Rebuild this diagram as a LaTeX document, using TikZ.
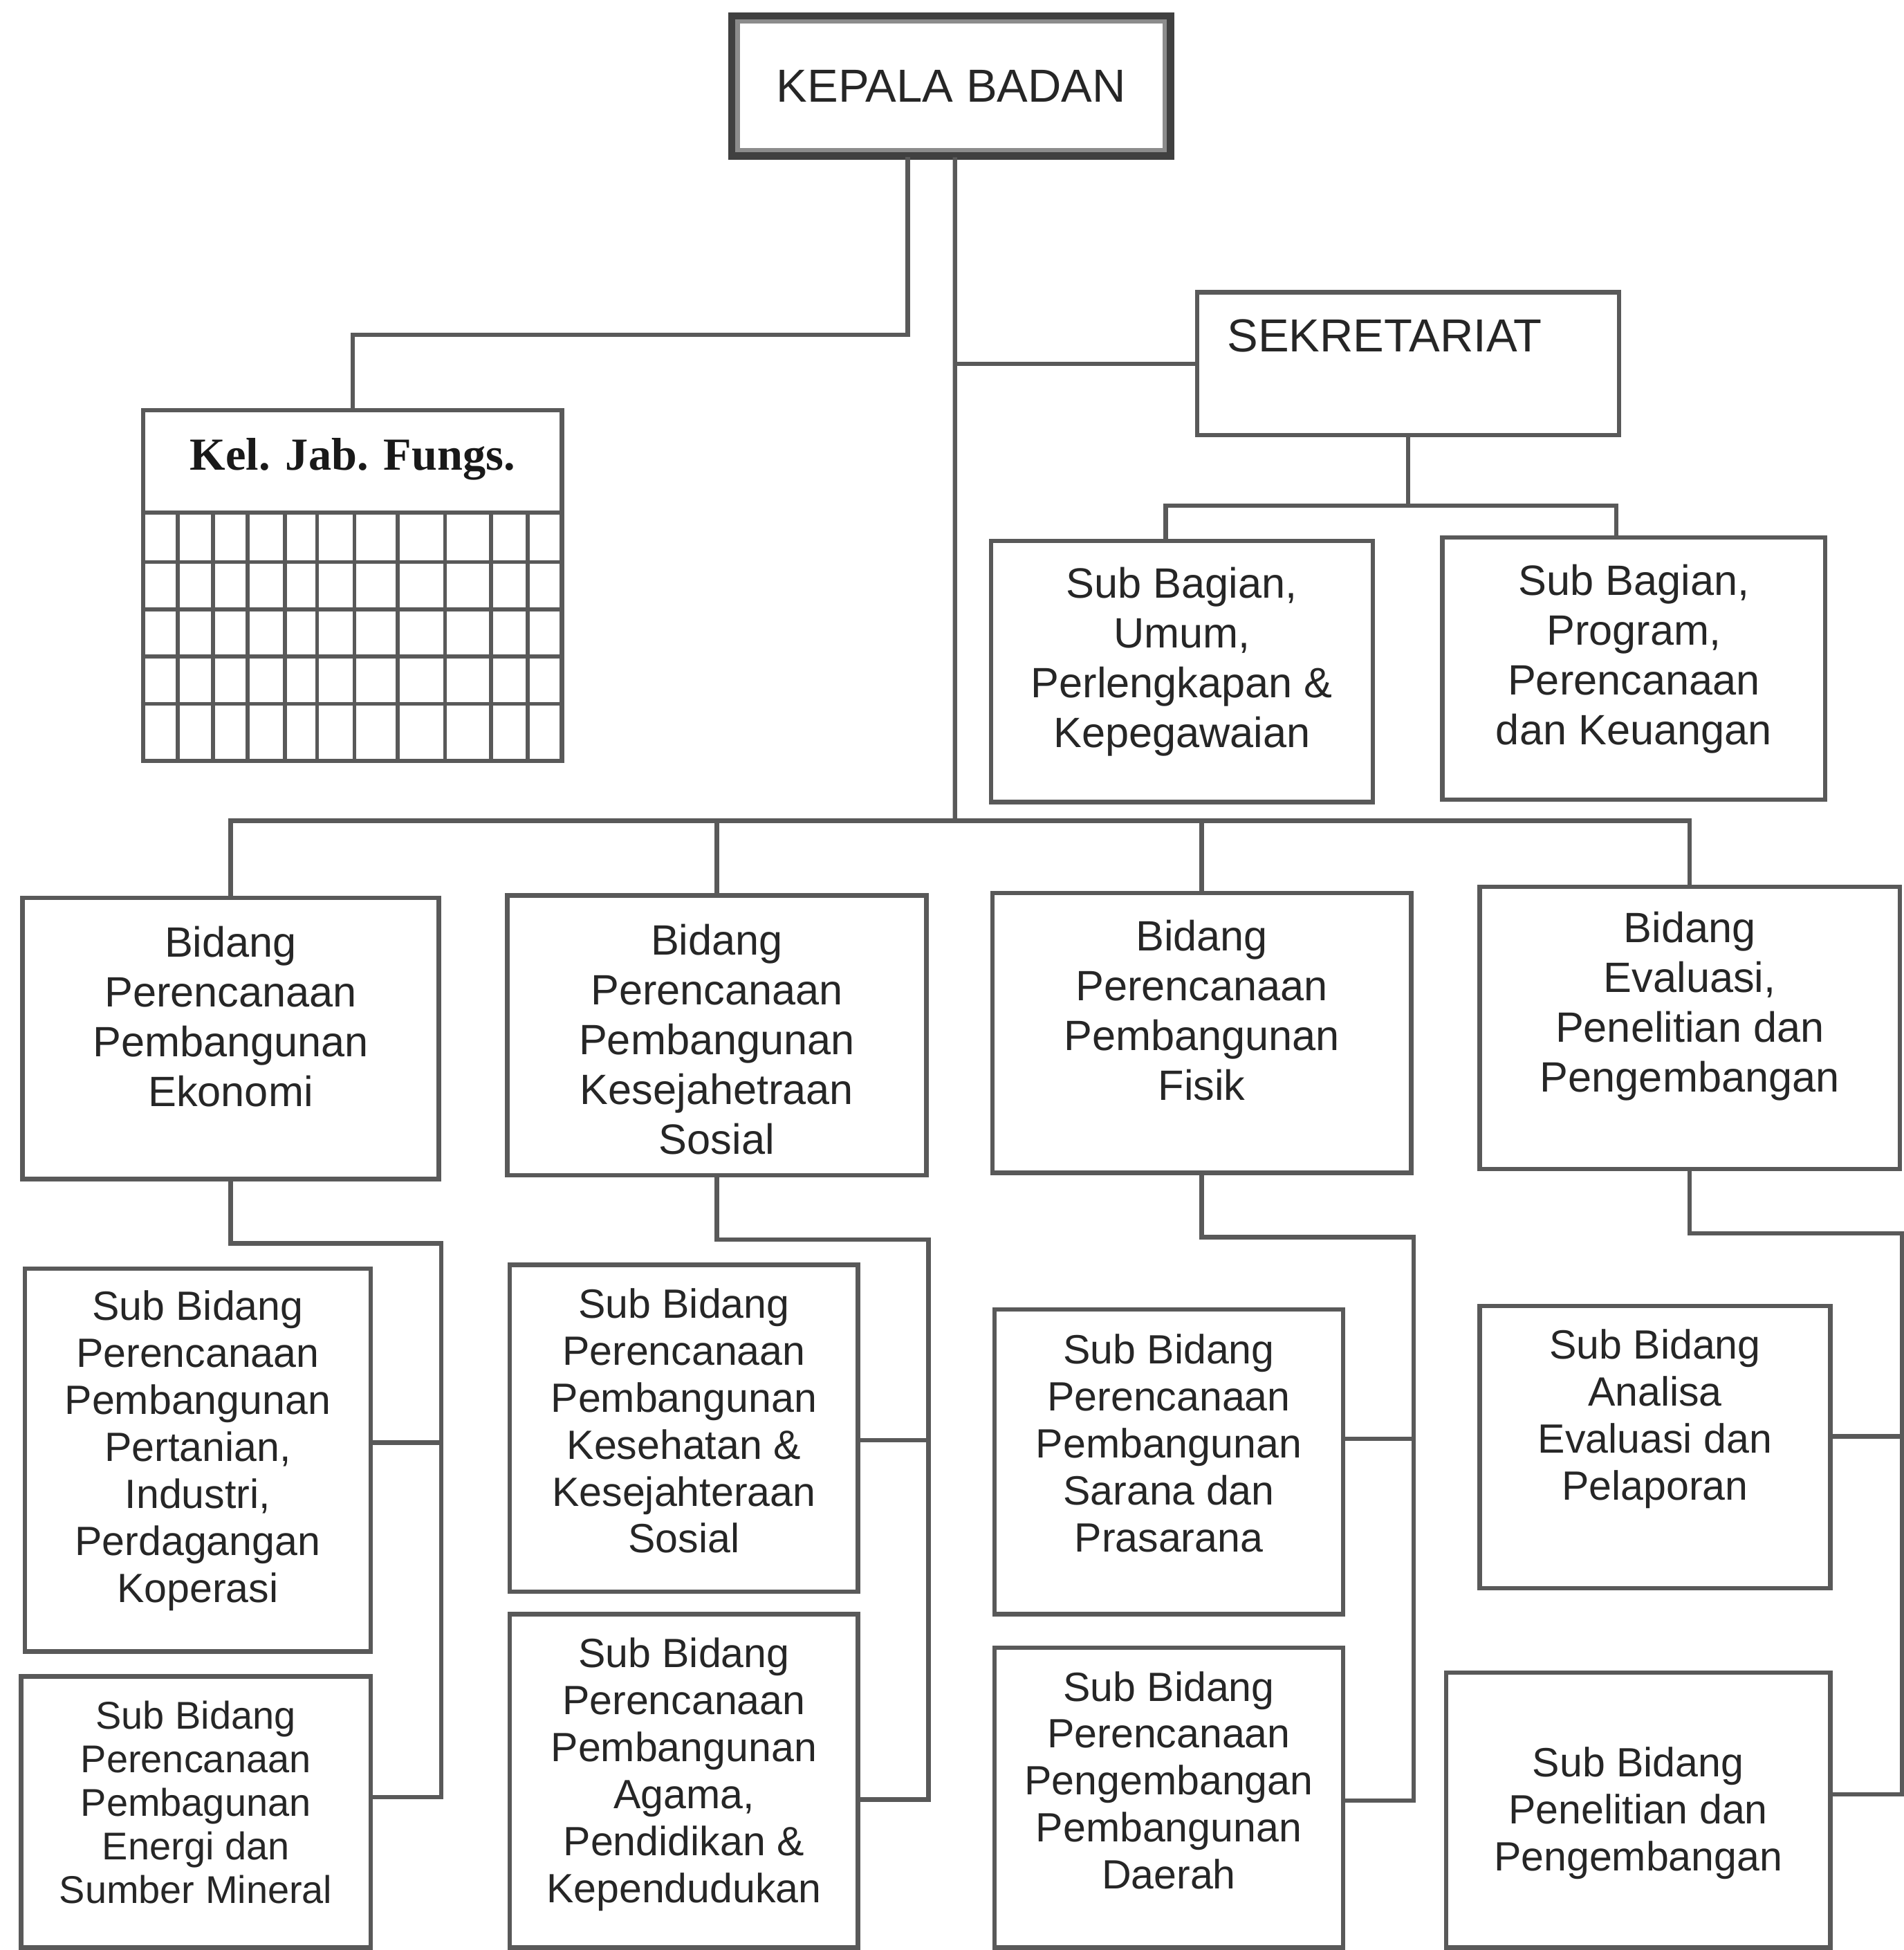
\documentclass[tikz,border=0pt]{standalone}
\usepackage{fontspec}
\setmainfont{Liberation Sans}
\newfontfamily\kelfont{Liberation Serif}
\usetikzlibrary{positioning}
\tikzstyle{box}=[draw=black!65,line width=1pt,rectangle,inner sep=0pt]
\tikzstyle{link}=[draw=black!65,line width=1pt,line cap=rect]
\tikzstyle{gridline}=[draw=black!65,line width=0.9pt]
\tikzstyle{txt}=[align=center,inner sep=0pt,text=black!85,font=\fontsize{9.7}{11.4}\selectfont]
\tikzstyle{subtxt}=[align=center,inner sep=0pt,text=black!85,font=\fontsize{9.35}{10.75}\selectfont]
\tikzstyle{headtxt}=[inner sep=0pt,text=black!85,font=\fontsize{10.6}{12}\selectfont]

\begin{document}
\begin{tikzpicture}[x=0.1mm,y=-0.1mm]
    \path[use as bounding box,fill=white] (0,0) rectangle (1531,1568);

    % top
    \node[box,line width=2.4pt,draw=black!75,minimum width=35mm,minimum height=11mm,headtxt] (kepala) at (765,69) {KEPALA BADAN};
    \draw[black!45,line width=1pt] ([shift={(7.5,7.5)}]kepala.north west) rectangle ([shift={(-7.5,-7.5)}]kepala.south east);

    \node[box,minimum width=33.9mm,minimum height=11.5mm] (sek) at (1132.5,292.5) {};
    \node[headtxt,anchor=north west] (sekt) at ([xshift=2.5mm,yshift=-2.3mm]sek.north west) {SEKRETARIAT};

    \node[box,minimum width=30.7mm,minimum height=21mm] (sbu) at (950.5,540) {};
    \node[txt,below=2.2mm of sbu.north] (sbut) {Sub Bagian,\\Umum,\\Perlengkapan \&\\Kepegawaian};
    \node[box,minimum width=30.8mm,minimum height=21.1mm] (sbp) at (1314,537.5) {};
    \node[txt,below=2.3mm of sbp.north] (sbpt) {Sub Bagian,\\Program,\\Perencanaan\\dan Keuangan};

    % kel. jab. fungs.
    \node[box,minimum width=33.7mm,minimum height=28.2mm] (kel) at (283.5,471) {};
    \node[inner sep=0pt,text=black!90,font=\fontsize{10.5}{12}\kelfont\bfseries] (kelt) at ([yshift=-4.1mm]kel.north) {Kel. Jab. Fungs.};
    \foreach \y in {412,452,490,528,566}
        \draw[gridline] (kel.west |- 0,\y) -- (kel.east |- 0,\y);
    \foreach \x in {143,171.5,199,229,255,285,320,358,395,424.5}
        \draw[gridline] (\x,412) -- (\x,0 |- kel.south);

    % bidang
    \node[box,minimum width=33.5mm,minimum height=22.6mm] (bid1) at (185.5,835) {};
    \node[txt,below=2.4mm of bid1.north] (bid1t) {Bidang\\Perencanaan\\Pembangunan\\Ekonomi};
    \node[box,minimum width=33.7mm,minimum height=22.5mm] (bid2) at (576.5,832.5) {};
    \node[txt,below=2.4mm of bid2.north] (bid2t) {Bidang\\Perencanaan\\Pembangunan\\Kesejahetraan\\Sosial};
    \node[box,minimum width=33.7mm,minimum height=22.5mm] (bid3) at (966.5,830.5) {};
    \node[txt,below=2.3mm of bid3.north] (bid3t) {Bidang\\Perencanaan\\Pembangunan\\Fisik};
    \node[box,minimum width=33.8mm,minimum height=22.7mm] (bid4) at (1359,826.5) {};
    \node[txt,below=2.1mm of bid4.north] (bid4t) {Bidang\\Evaluasi,\\Penelitian dan\\Pengembangan};

    % sub bidang
    \node[box,minimum width=27.8mm,minimum height=30.8mm] (sa1) at (159,1174) {};
    \node[subtxt,below=1.9mm of sa1.north] (sa1t) {Sub Bidang\\Perencanaan\\Pembangunan\\Pertanian,\\Industri,\\Perdagangan\\Koperasi};
    \node[box,minimum width=28.1mm,minimum height=21.8mm] (sb1) at (157.5,1457) {};
    \node[subtxt,font=\fontsize{8.85}{9.95}\selectfont,below=2.1mm of sb1.north] (sb1t) {Sub Bidang\\Perencanaan\\Pembagunan\\Energi dan\\Sumber Mineral};

    \node[box,minimum width=28mm,minimum height=26.3mm] (sa2) at (550,1148.5) {};
    \node[subtxt,below=2mm of sa2.north] (sa2t) {Sub Bidang\\Perencanaan\\Pembangunan\\Kesehatan \&\\Kesejahteraan\\Sosial};
    \node[box,minimum width=28mm,minimum height=26.8mm] (sb2) at (550,1432) {};
    \node[subtxt,below=2mm of sb2.north] (sb2t) {Sub Bidang\\Perencanaan\\Pembangunan\\Agama,\\Pendidikan \&\\Kependudukan};

    \node[box,minimum width=28mm,minimum height=24.5mm] (sa3) at (940,1175.5) {};
    \node[subtxt,below=2.1mm of sa3.north] (sa3t) {Sub Bidang\\Perencanaan\\Pembangunan\\Sarana dan\\Prasarana};
    \node[box,minimum width=28mm,minimum height=24.1mm] (sb3) at (940,1445.5) {};
    \node[subtxt,below=2mm of sb3.north] (sb3t) {Sub Bidang\\Perencanaan\\Pengembangan\\Pembangunan\\Daerah};

    \node[box,minimum width=28.2mm,minimum height=22.7mm] (sa4) at (1331,1163.5) {};
    \node[subtxt,below=2mm of sa4.north] (sa4t) {Sub Bidang\\Analisa\\Evaluasi dan\\Pelaporan};
    \node[box,minimum width=30.9mm,minimum height=22.1mm] (sb4) at (1317.5,1455.5) {};
    \node[subtxt,below=6.1mm of sb4.north] (sb4t) {Sub Bidang\\Penelitian dan\\Pengembangan};

    % connectors
    \coordinate (bus) at (768,660);
    \draw[link] ([xshift=-3.5mm]kepala.south) -- ++(0,141) -| (kel.north);
    \draw[link] ([xshift=0.3mm]kepala.south) -- (bus);
    \draw[link] (sek.west) -- (sek.west -| bus);
    \draw[link] (sek.south) -- ++(0,55) coordinate (sekj);
    \draw[link] ([xshift=-1.3mm]sbu.north) |- (sekj) -| ([xshift=-1.4mm]sbp.north);
    \draw[link] (bid1.north) |- (bus) -| (bid4.north);
    \draw[link] (bid2.north) -- (bid2.north |- bus);
    \draw[link] (bid3.north) -- (bid3.north |- bus);
    \foreach \c/\ya/\yb in {1/1160/1445,2/1158/1447,3/1157/1448,4/1155/1443} {
        \draw[link] (bid\c.south) -- ++(0,50) -| (bid\c.east |- 0,\yb) coordinate (v\c);
        \draw[link] (sa\c.east |- 0,\ya) -- (v\c |- 0,\ya);
        \draw[link] (sb\c.east |- 0,\yb) -- (v\c);
    }
\end{tikzpicture}
\end{document}
